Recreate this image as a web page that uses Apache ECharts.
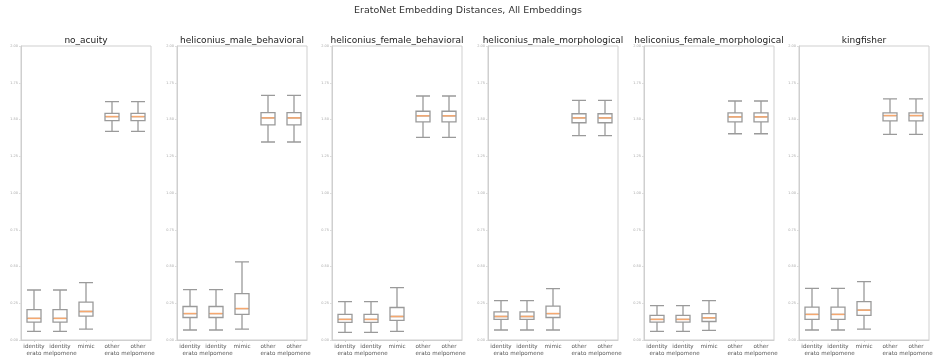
<!DOCTYPE html>
<html>
<head>
<meta charset="utf-8">
<script src="https://cdn.jsdelivr.net/npm/echarts@6/dist/echarts.min.js"></script>
<style>html,body{margin:0;padding:0;background:#fff}#c{width:937px;height:360px}</style>
</head>
<body>
<div id="c"></div>
<script>
const mainTitle = 'EratoNet Embedding Distances, All Embeddings';
const panelNames = ['no_acuity', 'heliconius_male_behavioral', 'heliconius_female_behavioral',
  'heliconius_male_morphological', 'heliconius_female_morphological', 'kingfisher'];
const categories = ['identity\nerato', 'identity\nmelpomene', 'mimic', 'other\nerato', 'other\nmelpomene'];
const yTicks = [0, 0.25, 0.5, 0.75, 1.0, 1.25, 1.5, 1.75, 2.0];

// each box: [lower whisker, Q1, median, Q3, upper whisker]
const noAcuity = [
  [0.059, 0.122, 0.147, 0.207, 0.340],
  [0.059, 0.122, 0.147, 0.207, 0.340],
  [0.074, 0.162, 0.194, 0.257, 0.390],
  [1.419, 1.493, 1.520, 1.541, 1.622],
  [1.419, 1.493, 1.520, 1.541, 1.622]
];
const maleBehavioral = [
  [0.068, 0.153, 0.180, 0.228, 0.343],
  [0.068, 0.153, 0.180, 0.228, 0.343],
  [0.074, 0.174, 0.214, 0.316, 0.532],
  [1.347, 1.464, 1.511, 1.547, 1.664],
  [1.347, 1.464, 1.511, 1.547, 1.664]
];
const femaleBehavioral = [
  [0.052, 0.120, 0.140, 0.174, 0.261],
  [0.052, 0.120, 0.140, 0.174, 0.261],
  [0.059, 0.133, 0.160, 0.221, 0.356],
  [1.378, 1.484, 1.525, 1.556, 1.660],
  [1.378, 1.484, 1.525, 1.556, 1.660]
];
const maleMorphological = [
  [0.068, 0.140, 0.160, 0.191, 0.268],
  [0.068, 0.140, 0.160, 0.191, 0.268],
  [0.068, 0.153, 0.180, 0.230, 0.349],
  [1.390, 1.478, 1.511, 1.539, 1.630],
  [1.390, 1.478, 1.511, 1.539, 1.630]
];
const femaleMorphological = [
  [0.059, 0.122, 0.140, 0.167, 0.234],
  [0.059, 0.122, 0.140, 0.167, 0.234],
  [0.066, 0.126, 0.151, 0.180, 0.268],
  [1.403, 1.484, 1.518, 1.545, 1.626],
  [1.403, 1.484, 1.518, 1.545, 1.626]
];
const kingfisher = [
  [0.068, 0.140, 0.174, 0.223, 0.351],
  [0.068, 0.140, 0.174, 0.223, 0.351],
  [0.074, 0.167, 0.203, 0.261, 0.397],
  [1.399, 1.491, 1.527, 1.545, 1.640],
  [1.399, 1.491, 1.527, 1.545, 1.640]
];
const panelData = [noAcuity, maleBehavioral, femaleBehavioral, maleMorphological, femaleMorphological, kingfisher];

const panelLefts = [21, 177, 332, 488, 644, 799];
const panelWidth = 130;
const gridTop = 46, gridBottom = 20;
const FONT = 'DejaVu Sans';

const grids = [], xAxes = [], yAxes = [], series = [], titles = [];
titles.push({text: mainTitle, left: 468, top: 6, textAlign: 'center', padding: 0,
  textStyle: {fontFamily: FONT, fontSize: 9.5, fontWeight: 'normal', color: '#333'}});
panelNames.forEach((name, i) => {
  grids.push({left: panelLefts[i], width: panelWidth, top: gridTop, bottom: gridBottom,
    show: true, borderColor: '#cfcfcf', borderWidth: 1, backgroundColor: 'transparent'});
  titles.push({text: name, left: panelLefts[i] + panelWidth / 2, top: 36, textAlign: 'center', padding: 0,
    textStyle: {fontFamily: FONT, fontSize: 9, fontWeight: 'normal', color: '#222'}});
  xAxes.push({gridIndex: i, type: 'category', data: categories,
    axisLine: {show: true, lineStyle: {color: '#cfcfcf'}},
    axisTick: {show: true, alignWithLabel: true, length: 2, lineStyle: {color: '#cfcfcf'}},
    axisLabel: {fontFamily: FONT, fontSize: 5.6, lineHeight: 7, color: '#555', margin: 3, interval: 0},
    splitLine: {show: false}});
  yAxes.push({gridIndex: i, type: 'value', min: 0, max: 2, interval: 0.25,
    axisLine: {show: true, lineStyle: {color: '#cfcfcf'}},
    axisTick: {show: true, length: 2, lineStyle: {color: '#dddddd'}},
    axisLabel: {fontFamily: FONT, fontSize: 3.5, color: '#aaa', margin: 3,
      formatter: v => v.toFixed(2)},
    splitLine: {show: false}});
  series.push({type: 'boxplot', xAxisIndex: i, yAxisIndex: i, data: panelData[i],
    boxWidth: [14, 14], silent: true, z: 2,
    itemStyle: {color: 'transparent', borderColor: '#9a9a9a', borderWidth: 1.3}});
  series.push({type: 'custom', xAxisIndex: i, yAxisIndex: i, silent: true, z: 10,
    data: panelData[i].map((b, k) => [k, b[2]]),
    renderItem: (params, api) => {
      const c = api.coord([api.value(0), api.value(1)]);
      const half = api.size([1, 0])[0] * 0.24;
      return {type: 'line', shape: {x1: c[0] - half, y1: c[1], x2: c[0] + half, y2: c[1]},
        style: {stroke: '#f6a86f', lineWidth: 1.5}};
    }});
});

const chart = echarts.init(document.getElementById('c'), null, {renderer: 'canvas'});
chart.setOption({animation: false, title: titles, grid: grids, xAxis: xAxes, yAxis: yAxes, series: series});
</script>
</body>
</html>
